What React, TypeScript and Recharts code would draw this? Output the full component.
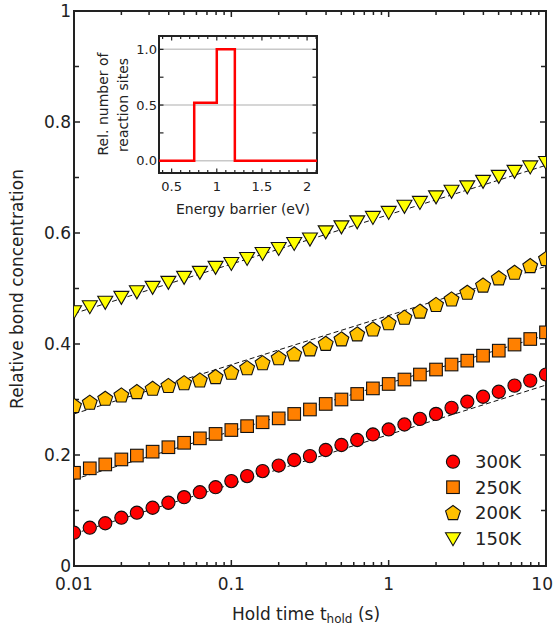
import React from 'react';
import {
  ComposedChart, LineChart, Line, Scatter, XAxis, YAxis, CartesianGrid, ReferenceLine, ReferenceArea,
} from 'recharts';

// hold times (s), 10 points per decade
const holdTimes = [
  0.01, 0.0126, 0.0158, 0.02, 0.0251, 0.0316, 0.0398, 0.0501, 0.0631, 0.0794,
  0.1, 0.126, 0.158, 0.2, 0.251, 0.316, 0.398, 0.501, 0.631, 0.794,
  1, 1.26, 1.58, 2, 2.51, 3.16, 3.98, 5.01, 6.31, 7.94, 10,
];

const conc300K = [
  0.06, 0.069, 0.077, 0.087, 0.096, 0.105, 0.114, 0.124, 0.133, 0.142,
  0.153, 0.162, 0.171, 0.181, 0.191, 0.198, 0.209, 0.218, 0.227, 0.237,
  0.246, 0.255, 0.265, 0.274, 0.285, 0.296, 0.305, 0.314, 0.325, 0.334, 0.345,
];
const conc250K = [
  0.168, 0.176, 0.183, 0.192, 0.199, 0.206, 0.214, 0.222, 0.23, 0.238,
  0.245, 0.252, 0.259, 0.266, 0.274, 0.282, 0.292, 0.3, 0.31, 0.32,
  0.328, 0.336, 0.345, 0.354, 0.363, 0.37, 0.379, 0.388, 0.399, 0.409, 0.421,
];
const conc200K = [
  0.289, 0.295, 0.302, 0.308, 0.314, 0.32, 0.325, 0.33, 0.335, 0.341,
  0.349, 0.357, 0.366, 0.375, 0.382, 0.391, 0.401, 0.409, 0.418, 0.427,
  0.438, 0.448, 0.459, 0.471, 0.481, 0.493, 0.506, 0.519, 0.529, 0.541, 0.554,
];
const conc150K = [
  0.459, 0.468, 0.476, 0.485, 0.495, 0.503, 0.512, 0.521, 0.53, 0.539,
  0.546, 0.555, 0.564, 0.573, 0.582, 0.59, 0.603, 0.612, 0.621, 0.629,
  0.638, 0.649, 0.656, 0.666, 0.676, 0.684, 0.694, 0.703, 0.712, 0.72, 0.728,
];

// dashed fits (straight on log time axis)
const fitTimes = [0.01, 10];
const fit300K = [0.058, 0.326];
const fit250K = [0.156, 0.416];
const fit200K = [0.274, 0.54];
const fit150K = [0.455, 0.722];

const xMajor = [0.01, 0.1, 1, 10];
const xMinor = [
  0.02, 0.03, 0.04, 0.05, 0.06, 0.07, 0.08, 0.09,
  0.2, 0.3, 0.4, 0.5, 0.6, 0.7, 0.8, 0.9,
  2, 3, 4, 5, 6, 7, 8, 9,
];
const yMajor = [0, 0.2, 0.4, 0.6, 0.8, 1];
const yMinor = [0.1, 0.3, 0.5, 0.7, 0.9];

// inset: distribution of energy barriers
const barrierEdges = [0.36, 0.75, 1.0, 1.2, 2.11];
const siteFraction = [0, 0.52, 1.0, 0, 0];
const insetXMajor = [0.5, 1, 1.5, 2];
const insetXMinor = [0.4, 0.6, 0.7, 0.8, 0.9, 1.1, 1.2, 1.3, 1.4, 1.6, 1.7, 1.8, 1.9, 2.1];
const insetYMajor = [0, 0.5, 1];
const insetYMinor = [0.25, 0.75];

const FONT = '"DejaVu Sans", Verdana, sans-serif';
const INK = '#222';
const PAGE_W = 554;

// plot geometry (px per data unit) for converting tick lengths
const MAIN_PX_PER_Y = 555;
const MAIN_PX_PER_DECADE = 472 / 3;
const INSET_X = [0.36, 2.11];
const INSET_Y = [-0.11, 1.12];
const INSET_PX_PER_X = 158 / (INSET_X[1] - INSET_X[0]);
const INSET_PX_PER_Y = 137 / (INSET_Y[1] - INSET_Y[0]);

const toPoints = (xs: number[], ys: number[]) => xs.map((t, i) => ({ t, c: ys[i] }));

// ---- markers ----
const MarkerCircle = ({ cx, cy, fill }: any) => (
  <circle cx={cx} cy={cy} r={6.6} fill={fill} stroke="#111" strokeWidth={1.1} />
);
const MarkerSquare = ({ cx, cy, fill }: any) => (
  <rect x={cx - 6.3} y={cy - 6.3} width={12.6} height={12.6} fill={fill} stroke="#111" strokeWidth={1.1} />
);
const MarkerPentagon = ({ cx, cy, fill }: any) => {
  const r = 7.8;
  const pts = [0, 1, 2, 3, 4]
    .map((i) => {
      const a = ((-90 + i * 72) * Math.PI) / 180;
      return `${cx + r * Math.cos(a)},${cy + 0.6 + r * Math.sin(a)}`;
    })
    .join(' ');
  return <polygon points={pts} fill={fill} stroke="#111" strokeWidth={1.1} />;
};
const MarkerTriangleDown = ({ cx, cy, fill }: any) => (
  <polygon
    points={`${cx - 7.5},${cy - 5.5} ${cx + 7.5},${cy - 5.5} ${cx},${cy + 7.5}`}
    fill={fill}
    stroke="#111"
    strokeWidth={1.1}
  />
);

const series = [
  { name: '300K', data: conc300K, fit: fit300K, color: '#ff0000', Marker: MarkerCircle },
  { name: '250K', data: conc250K, fit: fit250K, color: '#ff8000', Marker: MarkerSquare },
  { name: '200K', data: conc200K, fit: fit200K, color: '#ffc000', Marker: MarkerPentagon },
  { name: '150K', data: conc150K, fit: fit150K, color: '#ffff00', Marker: MarkerTriangleDown },
];

// rough DejaVu width, used to keep the last x label on the page
const textWidth = (s: string, fs: number) =>
  s.split('').reduce((w, ch) => w + (ch === '.' ? 0.318 : 0.636), 0) * fs;

// tick labels only; the tick marks themselves are reference segments
const xLabel = (majors: number[], fs: number, gap: number, fmt: (v: number) => string) => (props: any) => {
  const v = props.payload.value;
  if (!majors.includes(v)) return <g />;
  const s = fmt(v);
  const x = Math.min(Number(props.x), PAGE_W - textWidth(s, fs) / 2 - 1);
  return (
    <text x={x} y={Number(props.y) + gap} textAnchor="middle" fontSize={fs} fontFamily={FONT} fill={INK}>
      {s}
    </text>
  );
};
const yLabel = (majors: number[], fs: number, gap: number, fmt: (v: number) => string) => (props: any) => {
  const v = props.payload.value;
  if (!majors.includes(v)) return <g />;
  return (
    <text x={Number(props.x) - gap} y={Number(props.y) + fs * 0.36} textAnchor="end" fontSize={fs} fontFamily={FONT} fill={INK}>
      {fmt(v)}
    </text>
  );
};

// inward frame ticks for the main (log x) plot
const mainTicks = () => {
  const segs: any[] = [];
  const xs = [...xMajor.map((v) => [v, 6]), ...xMinor.map((v) => [v, 4])];
  xs.forEach(([v, len]) => {
    const dy = len / MAIN_PX_PER_Y;
    segs.push([{ x: v, y: 0 }, { x: v, y: dy }]);
    segs.push([{ x: v, y: 1 }, { x: v, y: 1 - dy }]);
  });
  const ys = [...yMajor.map((v) => [v, 6]), ...yMinor.map((v) => [v, 5])];
  ys.forEach(([v, len]) => {
    const f = Math.pow(10, len / MAIN_PX_PER_DECADE);
    segs.push([{ x: 0.01, y: v }, { x: 0.01 * f, y: v }]);
    segs.push([{ x: 10, y: v }, { x: 10 / f, y: v }]);
  });
  return segs;
};

const insetTicks = () => {
  const segs: any[] = [];
  const xs = [...insetXMajor.map((v) => [v, 4.5]), ...insetXMinor.map((v) => [v, 3])];
  xs.forEach(([v, len]) => {
    const dy = len / INSET_PX_PER_Y;
    segs.push([{ x: v, y: INSET_Y[0] }, { x: v, y: INSET_Y[0] + dy }]);
    segs.push([{ x: v, y: INSET_Y[1] }, { x: v, y: INSET_Y[1] - dy }]);
  });
  [...insetYMajor, ...insetYMinor].forEach((v) => {
    const dx = 4.5 / INSET_PX_PER_X;
    segs.push([{ x: INSET_X[0], y: v }, { x: INSET_X[0] + dx, y: v }]);
    segs.push([{ x: INSET_X[1], y: v }, { x: INSET_X[1] - dx, y: v }]);
  });
  return segs;
};

const axisLine = { stroke: INK, strokeWidth: 2 };
const xTicks = [...xMajor];
const yTicks = [...yMajor];

const Inset = () => {
  const stepData = barrierEdges.map((e, i) => ({ e, v: siteFraction[i] }));
  return (
    <div style={{ position: 'absolute', left: 90, top: 20 }}>
      <LineChart width={240} height={210} data={stepData} margin={{ top: 16, right: 13, left: 0, bottom: 0 }}>
        <CartesianGrid vertical={false} horizontalValues={insetYMajor} stroke="#c8c8c8" strokeWidth={1.5} />
        <XAxis
          dataKey="e"
          type="number"
          domain={INSET_X}
          allowDataOverflow
          ticks={insetXMajor}
          interval={0}
          height={57}
          tickSize={0}
          tickMargin={0}
          tickLine={false}
          axisLine={false}
          tick={xLabel(insetXMajor, 13, 18, (v) => String(v))}
        />
        <YAxis
          type="number"
          domain={INSET_Y}
          allowDataOverflow
          ticks={insetYMajor}
          interval={0}
          width={69}
          tickSize={0}
          tickMargin={0}
          tickLine={false}
          axisLine={false}
          tick={yLabel(insetYMajor, 13, 2, (v) => v.toFixed(1))}
        />
        {insetTicks().map((seg, i) => (
          <ReferenceLine key={`it-${i}`} segment={seg} stroke={INK} strokeWidth={1.2} />
        ))}
        <Line
          type="stepAfter"
          dataKey="v"
          stroke="#ff0000"
          strokeWidth={2.5}
          dot={false}
          activeDot={false}
          isAnimationActive={false}
        />
        <ReferenceArea
          x1={INSET_X[0]}
          x2={INSET_X[1]}
          y1={INSET_Y[0]}
          y2={INSET_Y[1]}
          fill="none"
          fillOpacity={0}
          stroke={INK}
          strokeWidth={2}
        />
      </LineChart>
    </div>
  );
};

const Labels = () => (
  <svg
    width={554}
    height={629}
    style={{ position: 'absolute', left: 0, top: 0, pointerEvents: 'none' }}
    fontFamily={FONT}
    fill={INK}
  >
    <text transform="translate(23,289) rotate(-90)" textAnchor="middle" fontSize={17}>
      Relative bond concentration
    </text>
    <text x={306} y={620} textAnchor="middle" fontSize={17}>
      Hold time t<tspan fontSize={12} dy={3}>hold</tspan>
      <tspan dy={-3}> (s)</tspan>
    </text>
    <text transform="translate(108,104) rotate(-90)" textAnchor="middle" fontSize={14}>
      Rel. number of
    </text>
    <text transform="translate(128,105) rotate(-90)" textAnchor="middle" fontSize={14}>
      reaction sites
    </text>
    <text x={243} y={214} textAnchor="middle" fontSize={14}>
      Energy barrier (eV)
    </text>
    {series.map((s, i) => {
      const cy = 461.7 + i * 25.5;
      const M = s.Marker;
      return (
        <g key={s.name}>
          <M cx={453} cy={cy} fill={s.color} />
          <text x={475} y={cy + 6.5} fontSize={18}>
            {s.name}
          </text>
        </g>
      );
    })}
  </svg>
);

export default function App() {
  return (
    <div style={{ position: 'absolute', left: 0, top: 0, width: 554, height: 629, background: '#fff', fontFamily: FONT }}>
      <ComposedChart width={554} height={629} margin={{ top: 11, right: 8, left: 0, bottom: 0 }}>
        <XAxis
          dataKey="t"
          type="number"
          scale="log"
          domain={[0.01, 10]}
          allowDataOverflow
          ticks={xTicks}
          interval={0}
          height={63}
          tickSize={0}
          tickMargin={0}
          tickLine={false}
          axisLine={axisLine}
          tick={xLabel(xMajor, 17, 24, (v) => String(v))}
        />
        <YAxis
          dataKey="c"
          type="number"
          domain={[0, 1]}
          allowDataOverflow
          ticks={yTicks}
          interval={0}
          width={74}
          tickSize={0}
          tickMargin={0}
          tickLine={false}
          axisLine={axisLine}
          tick={yLabel(yMajor, 17, 3, (v) => String(v))}
        />
        {mainTicks().map((seg, i) => (
          <ReferenceLine key={`mt-${i}`} segment={seg} stroke={INK} strokeWidth={1.5} />
        ))}
        <ReferenceArea
          x1={0.01}
          x2={10}
          y1={0}
          y2={1}
          fill="none"
          fillOpacity={0}
          stroke={INK}
          strokeWidth={2}
        />
        {series.map((s) => (
          <Scatter
            key={s.name}
            name={s.name}
            data={toPoints(holdTimes, s.data)}
            dataKey="c"
            isAnimationActive={false}
            shape={(p: any) => <s.Marker cx={p.cx} cy={p.cy} fill={s.color} />}
          />
        ))}
        {series.map((s) => (
          <Line
            key={`fit-${s.name}`}
            data={toPoints(fitTimes, s.fit)}
            dataKey="c"
            stroke="#111"
            strokeWidth={1}
            strokeDasharray="5 3"
            dot={false}
            activeDot={false}
            isAnimationActive={false}
          />
        ))}
      </ComposedChart>
      <Inset />
      <Labels />
    </div>
  );
}
